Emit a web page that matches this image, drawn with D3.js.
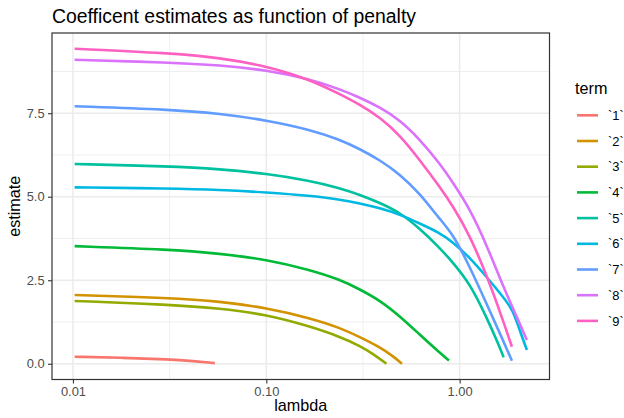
<!DOCTYPE html>
<html>
<head>
<meta charset="utf-8">
<script src="https://cdn.jsdelivr.net/npm/d3@7"></script>
<style>
  html, body { margin: 0; padding: 0; background: #fff; }
  svg { display: block; font-family: "Liberation Sans", Arial, sans-serif; }
</style>
</head>
<body>
<svg id="chart" width="624" height="418"></svg>
<script>
// ---- data ----
const terms = ["`1`", "`2`", "`3`", "`4`", "`5`", "`6`", "`7`", "`8`", "`9`"];
const termColors = ["#F8766D", "#D39200", "#93AA00", "#00BA38", "#00C19F", "#00B9E3", "#619CFF", "#DB72FB", "#FF61C3"];

// [lambda, estimate] pairs for each term
const term1 = [[0.0102, 0.21], [0.0182, 0.18], [0.0317, 0.13], [0.0418, 0.08], [0.0542, 0.02]];
const term2 = [[0.0102, 2.06], [0.0317, 1.97], [0.0575, 1.87], [0.1006, 1.67], [0.1678, 1.37], [0.24, 1.08], [0.3042, 0.80], [0.386, 0.50], [0.452, 0.23], [0.503, 0.0]];
const term3 = [[0.0102, 1.88], [0.0317, 1.77], [0.0575, 1.66], [0.1006, 1.47], [0.1678, 1.12], [0.24, 0.81], [0.3042, 0.54], [0.3563, 0.30], [0.4181, 0.0]];
const term4 = [[0.0102, 3.52], [0.0317, 3.42], [0.0575, 3.30], [0.1006, 3.12], [0.1678, 2.81], [0.24, 2.52], [0.3042, 2.23], [0.386, 1.90], [0.4896, 1.43], [0.6214, 0.87], [0.7882, 0.33], [0.8806, 0.10]];
const term5 = [[0.0102, 5.98], [0.0317, 5.91], [0.0575, 5.83], [0.1006, 5.69], [0.1678, 5.48], [0.24, 5.26], [0.3042, 5.06], [0.386, 4.82], [0.4896, 4.53], [0.6214, 4.05], [0.7882, 3.47], [0.9234, 3.03], [1.1265, 2.41], [1.374, 1.41], [1.609, 0.51], [1.688, 0.19]];
const term6 = [[0.0102, 5.28], [0.0317, 5.25], [0.0575, 5.21], [0.1006, 5.13], [0.1678, 5.03], [0.24, 4.92], [0.3042, 4.80], [0.386, 4.66], [0.4896, 4.47], [0.6214, 4.20], [0.7882, 3.92], [0.9234, 3.64], [1.1265, 3.18], [1.374, 2.61], [1.674, 2.01], [1.886, 1.61], [2.042, 1.01], [2.227, 0.41]];
const term7 = [[0.0102, 7.71], [0.0317, 7.61], [0.0575, 7.49], [0.1006, 7.29], [0.1678, 7.01], [0.24, 6.71], [0.3042, 6.43], [0.386, 6.10], [0.4896, 5.68], [0.6214, 5.10], [0.7882, 4.33], [0.9234, 3.88], [1.1265, 2.91], [1.374, 1.81], [1.674, 0.71], [1.863, 0.09]];
const term8 = [[0.0102, 9.10], [0.0317, 9.02], [0.0575, 8.94], [0.1006, 8.79], [0.1678, 8.52], [0.24, 8.22], [0.3042, 7.97], [0.386, 7.68], [0.4896, 7.30], [0.6214, 6.72], [0.7882, 6.00], [0.9234, 5.42], [1.1265, 4.65], [1.374, 3.58], [1.674, 2.33], [2.042, 1.21], [2.227, 0.71]];
const term9 = [[0.0102, 9.43], [0.0317, 9.30], [0.0575, 9.16], [0.1006, 8.91], [0.1678, 8.51], [0.24, 8.07], [0.3042, 7.76], [0.386, 7.38], [0.4896, 6.85], [0.6214, 6.10], [0.7882, 5.30], [0.9234, 4.72], [1.1265, 3.85], [1.374, 2.68], [1.674, 1.31], [1.863, 0.51]];
const seriesValues = [term1, term2, term3, term4, term5, term6, term7, term8, term9];

const xTicks = [0.01, 0.1, 1];
const xTickLabels = ["0.01", "0.10", "1.00"];
const xMinorTicks = [Math.sqrt(0.001 * 0.01), Math.sqrt(0.01 * 0.1), Math.sqrt(0.1 * 1), Math.sqrt(1 * 10)];
const yTicks = [0, 2.5, 5, 7.5];
const yTickLabels = ["0.0", "2.5", "5.0", "7.5"];
const yMinorTicks = [1.25, 3.75, 6.25, 8.75];

const titleText = "Coefficent estimates as function of penalty";
const xTitle = "lambda";
const yTitle = "estimate";
const legendTitle = "term";

// ---- layout ----
const W = 624, H = 418;
const P = { left: 52, top: 33, right: 549.5, bottom: 379.5 };

const allPts = seriesValues.flat();
const lx = d3.extent(allPts, d => Math.log10(d[0]));
const lpad = (lx[1] - lx[0]) * 0.05;
const x = d3.scaleLog().domain([Math.pow(10, lx[0] - lpad), Math.pow(10, lx[1] + lpad)]).range([P.left, P.right]);
const ye = d3.extent(allPts, d => d[1]);
const ypad = (ye[1] - ye[0]) * 0.05;
const y = d3.scaleLinear().domain([ye[0] - ypad, ye[1] + ypad]).range([P.bottom, P.top]);

const svg = d3.select("#chart");
svg.append("rect").attr("width", W).attr("height", H).attr("fill", "#fff");

// title
svg.append("text").attr("x", P.left).attr("y", 23)
  .attr("font-size", 19.4).attr("fill", "#000").text(titleText);

// clip
svg.append("clipPath").attr("id", "clip").append("rect")
  .attr("x", P.left).attr("y", P.top).attr("width", P.right - P.left).attr("height", P.bottom - P.top);

const grid = svg.append("g").attr("clip-path", "url(#clip)");
const [xd0, xd1] = x.domain();
grid.selectAll(".xminor").data(xMinorTicks.filter(t => t > xd0 && t < xd1)).join("line")
  .attr("x1", d => x(d)).attr("x2", d => x(d)).attr("y1", P.top).attr("y2", P.bottom)
  .attr("stroke", "#EBEBEB").attr("stroke-width", 0.8);
grid.selectAll(".yminor").data(yMinorTicks).join("line")
  .attr("y1", d => y(d)).attr("y2", d => y(d)).attr("x1", P.left).attr("x2", P.right)
  .attr("stroke", "#EBEBEB").attr("stroke-width", 0.8);
grid.selectAll(".xmajor").data(xTicks).join("line")
  .attr("x1", d => x(d)).attr("x2", d => x(d)).attr("y1", P.top).attr("y2", P.bottom)
  .attr("stroke", "#EBEBEB").attr("stroke-width", 1.5);
grid.selectAll(".ymajor").data(yTicks).join("line")
  .attr("y1", d => y(d)).attr("y2", d => y(d)).attr("x1", P.left).attr("x2", P.right)
  .attr("stroke", "#EBEBEB").attr("stroke-width", 1.5);

// lines
const line = d3.line().x(d => x(d[0])).y(d => y(d[1])).curve(d3.curveBasis);
const lines = svg.append("g").attr("clip-path", "url(#clip)");
seriesValues.forEach((s, i) => {
  lines.append("path").datum(s).attr("d", line)
    .attr("fill", "none").attr("stroke", termColors[i]).attr("stroke-width", 2.6)
    .attr("stroke-linejoin", "round").attr("stroke-linecap", "butt");
});

// panel border
svg.append("rect").attr("x", P.left).attr("y", P.top)
  .attr("width", P.right - P.left).attr("height", P.bottom - P.top)
  .attr("fill", "none").attr("stroke", "#333333").attr("stroke-width", 1.2);

// axes
const xAxis = d3.axisBottom(x).tickValues(xTicks).tickFormat((d, i) => xTickLabels[i]).tickSize(4).tickPadding(3);
const gx = svg.append("g").attr("transform", `translate(0,${P.bottom})`).call(xAxis);
gx.select(".domain").remove();
gx.selectAll("line").attr("stroke", "#333333").attr("stroke-width", 1.1);
gx.selectAll("text").attr("font-size", 12.9).attr("fill", "#4D4D4D").attr("font-family", "Liberation Sans, Arial, sans-serif");

const yAxis = d3.axisLeft(y).tickValues(yTicks).tickFormat((d, i) => yTickLabels[i]).tickSize(4).tickPadding(3.4);
const gy = svg.append("g").attr("transform", `translate(${P.left},0)`).call(yAxis);
gy.select(".domain").remove();
gy.selectAll("line").attr("stroke", "#333333").attr("stroke-width", 1.1);
gy.selectAll("text").attr("font-size", 12.9).attr("fill", "#4D4D4D").attr("font-family", "Liberation Sans, Arial, sans-serif");

// axis titles
svg.append("text").attr("x", (P.left + P.right) / 2).attr("y", 411)
  .attr("text-anchor", "middle").attr("font-size", 16.2).attr("fill", "#000").text(xTitle);
svg.append("text").attr("transform", `translate(20,${(P.top + P.bottom) / 2}) rotate(-90)`)
  .attr("text-anchor", "middle").attr("font-size", 16.2).attr("fill", "#000").text(yTitle);

// legend
const lg = svg.append("g");
lg.append("text").attr("x", 575).attr("y", 94).attr("font-size", 16.2).attr("fill", "#000").text(legendTitle);
const key0 = 115.3, keyStep = 25.7;
terms.forEach((t, i) => {
  const cy = key0 + i * keyStep;
  lg.append("line").attr("x1", 577).attr("x2", 598).attr("y1", cy).attr("y2", cy)
    .attr("stroke", termColors[i]).attr("stroke-width", 2.6);
  lg.append("text").attr("x", 608).attr("y", cy + 4.6).attr("font-size", 12.9).attr("fill", "#000").text(t);
});
</script>
</body>
</html>
